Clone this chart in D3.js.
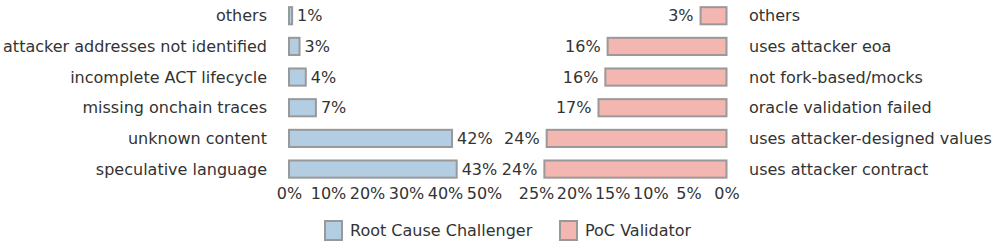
<!DOCTYPE html>
<html>
<head>
<meta charset="utf-8">
<script src="https://cdn.jsdelivr.net/npm/d3@7"></script>
<style>
  body { margin: 0; background: #fff; }
  svg { display: block; font-family: "DejaVu Sans", sans-serif; }
</style>
</head>
<body>
<svg id="chart"></svg>
<script>
// left panel: Root Cause Challenger
let leftCats = ["others", "attacker addresses not identified", "incomplete ACT lifecycle",
  "missing onchain traces", "unknown content", "speculative language"];
let leftVals = [0.8, 2.7, 4.3, 6.9, 41.8, 43.0];
let leftTicks = [0, 10, 20, 30, 40, 50];

// right panel: PoC Validator
let rightCats = ["others", "uses attacker eoa", "not fork-based/mocks",
  "oracle validation failed", "uses attacker-designed values", "uses attacker contract"];
let rightVals = [3.4, 15.6, 15.9, 16.8, 23.6, 23.9];
let rightTicks = [0, 5, 10, 15, 20, 25];

let legendNames = ["Root Cause Challenger", "PoC Validator"];

let width = 995, height = 250;
let fontSize = 16;
let textColor = "#333";
let edgeColor = "#999";
let blue = "#b3cde3", pink = "#f4b6b0";

let svg = d3.select("#chart").attr("width", width).attr("height", height);

let yLeft = d3.scaleBand().domain(leftCats).range([0.4, 184.4])
  .paddingInner(0.44).paddingOuter(0.22);
let yRight = d3.scaleBand().domain(rightCats).range([0.4, 184.4])
  .paddingInner(0.44).paddingOuter(0.22);

let xLeft = d3.scaleLinear().domain([0, 50]).range([289, 484]);
let xRight = d3.scaleLinear().domain([0, 25]).range([726.5, 536]);

let fmt = d => Math.round(d) + "%";

// left bars
let lg = svg.append("g");
lg.selectAll("rect").data(leftVals).enter().append("rect")
  .attr("x", xLeft(0))
  .attr("y", (d, i) => yLeft(leftCats[i]))
  .attr("width", d => xLeft(d) - xLeft(0))
  .attr("height", yLeft.bandwidth())
  .attr("fill", blue).attr("stroke", edgeColor).attr("stroke-width", 2);

lg.selectAll("text.val").data(leftVals).enter().append("text")
  .attr("class", "val")
  .attr("x", d => xLeft(d) + 5)
  .attr("y", (d, i) => yLeft(leftCats[i]) + yLeft.bandwidth() / 2)
  .attr("dy", "0.35em")
  .attr("font-size", fontSize).attr("fill", textColor)
  .text(fmt);

lg.selectAll("text.cat").data(leftCats).enter().append("text")
  .attr("class", "cat")
  .attr("x", 267)
  .attr("y", d => yLeft(d) + yLeft.bandwidth() / 2)
  .attr("dy", "0.35em")
  .attr("text-anchor", "end")
  .attr("font-size", fontSize).attr("fill", textColor)
  .text(d => d);

// right bars
let rg = svg.append("g");
rg.selectAll("rect").data(rightVals).enter().append("rect")
  .attr("x", d => xRight(d))
  .attr("y", (d, i) => yRight(rightCats[i]))
  .attr("width", d => xRight(0) - xRight(d))
  .attr("height", yRight.bandwidth())
  .attr("fill", pink).attr("stroke", edgeColor).attr("stroke-width", 2);

rg.selectAll("text.val").data(rightVals).enter().append("text")
  .attr("class", "val")
  .attr("x", d => xRight(d) - 7)
  .attr("y", (d, i) => yRight(rightCats[i]) + yRight.bandwidth() / 2)
  .attr("dy", "0.35em")
  .attr("text-anchor", "end")
  .attr("font-size", fontSize).attr("fill", textColor)
  .text(fmt);

rg.selectAll("text.cat").data(rightCats).enter().append("text")
  .attr("class", "cat")
  .attr("x", 749)
  .attr("y", d => yRight(d) + yRight.bandwidth() / 2)
  .attr("dy", "0.35em")
  .attr("font-size", fontSize).attr("fill", textColor)
  .text(d => d);

// axes, labels only
let drawAxis = (scale, ticks) => {
  let g = svg.append("g")
    .attr("transform", "translate(0,184.4)")
    .call(d3.axisBottom(scale).tickValues(ticks).tickSize(0).tickPadding(3).tickFormat(d => d + "%"));
  g.select(".domain").remove();
  g.selectAll("text").attr("font-size", fontSize).attr("fill", textColor)
    .attr("font-family", "DejaVu Sans, sans-serif");
};
drawAxis(xLeft, leftTicks);
drawAxis(xRight, rightTicks);

// legend
let legendX = [324, 559];
let legendColors = [blue, pink];
let leg = svg.append("g");
legendNames.forEach((name, i) => {
  leg.append("rect")
    .attr("x", legendX[i] + 1).attr("y", 221)
    .attr("width", 17).attr("height", 19)
    .attr("fill", legendColors[i]).attr("stroke", edgeColor).attr("stroke-width", 2);
  leg.append("text")
    .attr("x", legendX[i] + 26).attr("y", 230.5)
    .attr("dy", "0.35em")
    .attr("font-size", fontSize).attr("fill", textColor)
    .text(name);
});
</script>
</body>
</html>
